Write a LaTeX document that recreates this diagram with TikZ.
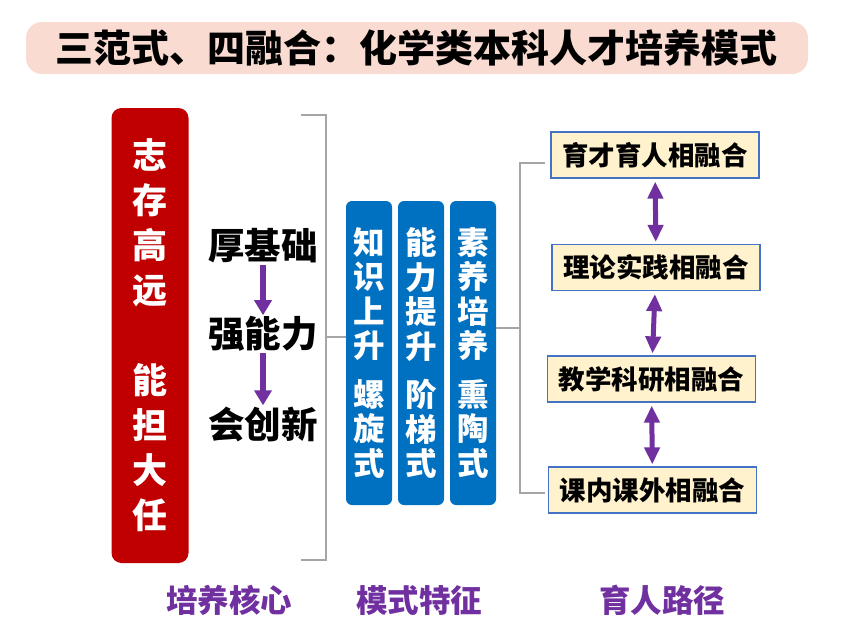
\documentclass[tikz,border=0pt]{standalone}
\usepackage{fontspec}
\usepackage{tikz}
\usetikzlibrary{positioning,calc,arrows.meta}
\setmainfont{Noto Sans CJK SC}[BoldFont={Noto Sans CJK SC Bold}]
\newfontfamily\cjkheavy{Noto Sans CJK SC Black}
\definecolor{CoreRed}{RGB}{192, 0, 0}
\definecolor{FeatBlue}{RGB}{0, 112, 192}
\definecolor{PathPurple}{RGB}{112, 48, 160}
\definecolor{BracketGray}{RGB}{166, 166, 166}
\definecolor{CreamFill}{RGB}{255, 242, 204}
\definecolor{EdgeBlue}{RGB}{68, 114, 196}
\definecolor{BannerPink}{RGB}{249, 219, 209}

\begin{document}
\begin{tikzpicture}[x=1pt, y=-1pt,
  banner/.style={rectangle, fill=BannerPink, rounded corners=16pt, minimum width=782pt, minimum height=52pt, font=\cjkheavy\fontsize{38}{40}\selectfont},
  corebox/.style={rectangle, fill=CoreRed, rounded corners=10pt, minimum width=77pt, minimum height=455pt, text=white, align=center, font=\cjkheavy\fontsize{35}{45}\selectfont},
  stagetext/.style={inner sep=1pt, font=\cjkheavy\fontsize{36.5}{37}\selectfont},
  featbox/.style={rectangle, fill=FeatBlue, rounded corners=6pt, minimum width=46pt, minimum height=304pt, inner sep=0pt, text=white, align=center, font=\cjkheavy\fontsize{31.5}{34.5}\selectfont},
  pathbox/.style={rectangle, draw=EdgeBlue, fill=CreamFill, line width=1.2pt, minimum width=208pt, minimum height=46pt, font=\cjkheavy\fontsize{26.5}{27}\selectfont},
  caption/.style={text=PathPurple, font=\cjkheavy\fontsize{31.5}{32}\selectfont},
  bracket/.style={draw=BracketGray, line width=1.8pt},
  downarrow/.style={-{Triangle[length=15pt,width=17pt]}, PathPurple, line width=5.5pt},
  botharrow/.style={{Triangle[length=17pt,width=15pt]}-{Triangle[length=17pt,width=15pt]}, PathPurple, line width=5pt, shorten <=3pt, shorten >=2pt}
]
  \useasboundingbox (0,0) rectangle (847,637);

  % title
  \node[banner] (title) at (417,48) {三范式、四融合：化学类本科人才培养模式};

  % core
  \node[corebox] (core) at (150,335.5) {志\\存\\高\\远\\[45pt]能\\担\\大\\任};
  \node[stagetext] (base) at (263,246) {厚基础};
  \node[stagetext] (ability) at (263,334) {强能力};
  \node[stagetext] (innov) at (263,424) {会创新};
  \draw[downarrow] (base) -- (ability);
  \draw[downarrow] (ability) -- (innov);

  % bracket
  \coordinate (brk) at (326,337);
  \draw[bracket] (301,115) -- (326,115) -- (326,560) -- (301,560);

  % features
  \node[featbox] (know) at (369,353) {知\\识\\上\\升\\[14pt]螺\\旋\\式};
  \node[featbox] (skill) at (421,353) {能\\力\\提\\升\\[14pt]阶\\梯\\式};
  \node[featbox] (quality) at (473,353) {素\\养\\培\\养\\[14pt]熏\\陶\\式};
  \draw[bracket] (brk) -- (know.west |- brk);

  % paths
  \node[pathbox] (p1) at (655,155) {育才育人相融合};
  \node[pathbox] (p2) at (656,267.5) {理论实践相融合};
  \node[pathbox] (p3) at (651.5,379) {教学科研相融合};
  \node[pathbox] (p4) at (652.5,490) {课内课外相融合};
  \coordinate (rj) at (520,328);
  \coordinate (rtop) at (545,163);
  \coordinate (rbot) at (545,493);
  \draw[bracket] (quality.east |- rj) -- (rj);
  \draw[bracket] (rtop) -- (rj |- rtop) -- (rj |- rbot) -- (rbot);
  \draw[botharrow] (p1) -- (p2);
  \draw[botharrow] (p2) -- (p3);
  \draw[botharrow] (p3) -- (p4);

  % captions
  \node[caption] (cap1) at (229,600) {培养核心};
  \node[caption] (cap2) at (419,600) {模式特征};
  \node[caption] (cap3) at (662,600) {育人路径};
\end{tikzpicture}
\end{document}
